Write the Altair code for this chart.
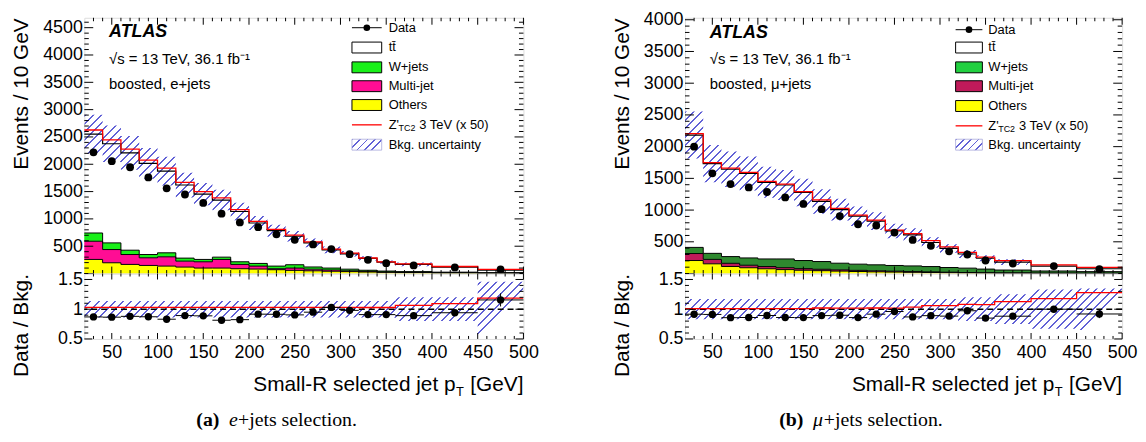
import altair as alt
import pandas as pd

# ---------------- data ----------------
bin_lo = [20, 40, 60, 80, 100, 120, 140, 160, 180, 200, 220, 240, 260, 280, 300, 320, 340, 360, 400, 450]
bin_hi = [40, 60, 80, 100, 120, 140, 160, 180, 200, 220, 240, 260, 280, 300, 320, 340, 360, 400, 450, 500]

# (a) e+jets, events / 10 GeV
ttbar_e = [1808, 1814, 1783, 1667, 1496, 1338, 1197, 1045, 920, 740, 649, 521, 441, 334, 281, 216, 164, 132, 93, 49]
wjets_e = [151, 122, 79, 60, 73, 55, 43, 42, 48, 49, 48, 61, 40, 35, 30, 20, 15, 13, 10, 5]
multijet_e = [333, 242, 181, 140, 170, 109, 115, 158, 79, 54, 18, 42, 30, 23, 15, 12, 8, 5, 3, 2]
others_e = [258, 197, 167, 148, 136, 118, 100, 100, 88, 82, 70, 58, 50, 42, 35, 28, 22, 17, 12, 8]
signal_e = [77, 71, 66, 60, 56, 49, 44, 40, 34, 28, 24, 20, 17, 13, 11, 8, 6, 11, 11, 12]
data_e = [2219, 2057, 1945, 1759, 1560, 1447, 1293, 1096, 936, 848, 718, 617, 533, 447, 354, 251, 190, 149, 111, 74]
unc_up_e = [0.14, 0.14, 0.14, 0.14, 0.14, 0.14, 0.14, 0.14, 0.14, 0.14, 0.14, 0.14, 0.14, 0.14, 0.14, 0.14, 0.14, 0.20, 0.20, 0.46]
unc_dn_e = [0.14, 0.14, 0.14, 0.14, 0.14, 0.14, 0.14, 0.14, 0.14, 0.14, 0.14, 0.14, 0.14, 0.14, 0.14, 0.14, 0.14, 0.20, 0.20, 0.55]
rerr_e = [0.01, 0.01, 0.01, 0.01, 0.01, 0.01, 0.01, 0.01, 0.01, 0.01, 0.015, 0.015, 0.02, 0.02, 0.025, 0.03, 0.035, 0.04, 0.05, 0.11]

# (b) mu+jets, events / 10 GeV
ttbar_m = [1771, 1414, 1377, 1331, 1207, 1165, 1072, 948, 844, 756, 689, 544, 489, 379, 301, 223, 171, 124, 77, 45]
wjets_m = [97, 95, 106, 115, 120, 138, 128, 122, 105, 98, 94, 90, 89, 84, 74, 69, 57, 45, 33, 25]
multijet_m = [110, 70, 50, 40, 35, 30, 25, 22, 20, 18, 16, 14, 12, 10, 8, 6, 5, 4, 3, 2]
others_m = [205, 153, 111, 91, 75, 62, 52, 45, 38, 32, 27, 23, 19, 16, 13, 10, 8, 6, 4, 3]
signal_m = [22, 17, 16, 16, 14, 14, 13, 23, 20, 18, 17, 13, 21, 29, 24, 25, 19, 23, 21, 21]
data_m = [2000, 1580, 1410, 1357, 1285, 1200, 1097, 1015, 905, 777, 757, 645, 530, 436, 350, 300, 205, 158, 117, 69]
unc_up_m = [0.17, 0.17, 0.17, 0.17, 0.17, 0.17, 0.17, 0.17, 0.17, 0.17, 0.17, 0.17, 0.17, 0.17, 0.17, 0.20, 0.20, 0.25, 0.33, 0.35]
unc_dn_m = [0.17, 0.17, 0.17, 0.17, 0.17, 0.17, 0.17, 0.17, 0.17, 0.17, 0.17, 0.17, 0.17, 0.17, 0.17, 0.20, 0.20, 0.25, 0.33, 0.35]
rerr_m = [0.01, 0.01, 0.01, 0.01, 0.01, 0.01, 0.01, 0.01, 0.01, 0.01, 0.015, 0.015, 0.02, 0.02, 0.025, 0.03, 0.035, 0.04, 0.05, 0.07]

x_major = [50, 100, 150, 200, 250, 300, 350, 400, 450, 500]
ratio_major = [0.5, 1, 1.5]
legend_labels = ["Data", "tt\u0304", "W+jets", "Multi-jet", "Others", "Z'", "Bkg. uncertainty"]

# ---------------- style ----------------
FONT = "Liberation Sans"
SERIF = "Liberation Serif"
MAIN_H = 258
RAT_H = 66
RAT_DOM = [0.5, 1.6]
HATCH = "#6262d6"
CLEAR = "rgba(255,255,255,0)"


def hatch_fill(w, h, period=8.3, frac=0.24, color=HATCH):
    span = w + h * h / w
    n = span / period
    stops = []
    k = 0
    while k < n:
        a = k / n
        b = min((k + frac) / n, 1.0)
        c = min((k + 1) / n, 1.0)
        stops += [alt.GradientStop(offset=a, color=color), alt.GradientStop(offset=b, color=color),
                  alt.GradientStop(offset=b, color=CLEAR), alt.GradientStop(offset=c, color=CLEAR)]
        k += 1
    return alt.LinearGradient(gradient="linear", stops=stops, x1=0, y1=0, x2=1, y2=h / w)


def one():
    return pd.DataFrame({"k": [0]})


def label(text, x, y, size=13, align="left", weight="normal", style="normal", font=FONT, baseline="middle"):
    return alt.Chart(pd.DataFrame({"t": [text]})).mark_text(
        align=align, baseline=baseline, fontSize=size, fontWeight=weight, fontStyle=style,
        font=font, color="black").encode(x=alt.value(x), y=alt.value(y), text="t:N")


def box(x1, x2, y1, y2, fill, stroke="black", sw=1.0):
    return alt.Chart(one()).mark_rect(fill=fill, stroke=stroke, strokeWidth=sw, opacity=1).encode(
        x=alt.value(x1), x2=alt.value(x2), y=alt.value(y1), y2=alt.value(y2))


def hline(x1, x2, y, color, sw):
    return alt.Chart(one()).mark_rule(color=color, strokeWidth=sw).encode(
        x=alt.value(x1), x2=alt.value(x2), y=alt.value(y))


def dot(x, y, size=55):
    return alt.Chart(one()).mark_circle(size=size, color="black", opacity=1).encode(x=alt.value(x), y=alt.value(y))


def panel(p):
    W = p["W"]
    n = len(bin_lo)
    c1 = [p["oth"][i] for i in range(n)]
    c2 = [c1[i] + p["mj"][i] for i in range(n)]
    c3 = [c2[i] + p["wj"][i] for i in range(n)]
    bkg = [c3[i] + p["tt"][i] for i in range(n)]
    tot = [bkg[i] + p["sig"][i] for i in range(n)]
    up = [bkg[i] * (1 + p["uu"][i]) for i in range(n)]
    dn = [bkg[i] * (1 - p["ud"][i]) for i in range(n)]
    rows = []
    for i in range(n):
        rows.append({"x": bin_lo[i], "z": 0, "c1": c1[i], "c2": c2[i], "c3": c3[i], "bkg": bkg[i],
                     "tot": tot[i], "up": up[i], "dn": dn[i], "rup": 1 + p["uu"][i], "rdn": 1 - p["ud"][i],
                     "rsig": tot[i] / bkg[i]})
    last = dict(rows[-1])
    last["x"] = bin_hi[-1]
    rows.append(last)
    sdf = pd.DataFrame(rows)
    pts = pd.DataFrame({
        "xc": [(bin_lo[i] + bin_hi[i]) / 2 for i in range(n)],
        "lo": bin_lo, "hi": bin_hi,
        "d": p["data"],
        "r": [p["data"][i] / bkg[i] for i in range(n)],
        "rl": [p["data"][i] / bkg[i] - p["re"][i] for i in range(n)],
        "rh": [p["data"][i] / bkg[i] + p["re"][i] for i in range(n)],
    })

    xs = alt.Scale(domain=[20, 500], nice=False, zero=False)
    ys = alt.Scale(domain=[0, p["ymax"]], nice=False, zero=False)
    rs = alt.Scale(domain=RAT_DOM, nice=False, zero=False)
    yax = alt.Axis(values=p["yvals"], format="d", labelFontSize=18, labelPadding=2, labelColor="black",
                   labelFont=FONT, labelOverlap=False, ticks=False, tickSize=0, domain=False, grid=False,
                   title="Events / 10 GeV", titleFontSize=21, titleFont=FONT, titleFontWeight="normal",
                   titleColor="black", titleAnchor="end", titleBaseline="middle", titleX=-63)
    rax = alt.Axis(values=ratio_major, format="~g", labelFontSize=18, labelPadding=2, labelColor="black",
                   labelFont=FONT, labelOverlap=False, ticks=False, tickSize=0, domain=False, grid=False,
                   title="Data / Bkg.", titleFontSize=21, titleFont=FONT, titleFontWeight="normal",
                   titleColor="black", titleAnchor="end", titleBaseline="middle", titleX=-63)
    xax = alt.Axis(values=x_major, format="d", labelFontSize=18, labelPadding=5, labelColor="black",
                   labelFont=FONT, labelOverlap=False, labelFlush=False, ticks=False, tickSize=0,
                   domain=False, grid=False, title=None)

    def XM(f):
        return alt.X(f, type="quantitative", scale=xs, axis=None)

    def YM(f):
        return alt.Y(f, type="quantitative", scale=ys, axis=yax)

    def XR(f):
        return alt.X(f, type="quantitative", scale=xs, axis=xax)

    def YR(f):
        return alt.Y(f, type="quantitative", scale=rs, axis=rax)

    # band bounding boxes for hatch geometry
    mpx = MAIN_H / p["ymax"]
    hm = (max(up) - min(dn)) * mpx
    rpx = RAT_H / (RAT_DOM[1] - RAT_DOM[0])
    hr = (max(1 + u for u in p["uu"]) - min(1 - d for d in p["ud"])) * rpx

    base = alt.Chart(sdf)
    step = dict(interpolate="step-after")
    main_layers = [
        base.mark_area(color=p["ocol"], opacity=1, **step).encode(x=XM("x"), y=YM("c1"), y2=alt.Y2("z")),
        base.mark_area(color=p["mcol"], opacity=1, **step).encode(x=XM("x"), y=YM("c2"), y2=alt.Y2("c1")),
        base.mark_area(color=p["wcol"], opacity=1, **step).encode(x=XM("x"), y=YM("c3"), y2=alt.Y2("c2")),
        base.mark_line(color="black", strokeWidth=1, **step).encode(x=XM("x"), y=YM("c1")),
        base.mark_line(color="black", strokeWidth=1, **step).encode(x=XM("x"), y=YM("c2")),
        base.mark_line(color="black", strokeWidth=1, **step).encode(x=XM("x"), y=YM("c3")),
        base.mark_area(fill=hatch_fill(W, hm), opacity=1, clip=True, **step).encode(
            x=XM("x"), y=YM("up"), y2=alt.Y2("dn")),
        base.mark_line(color="black", strokeWidth=1.2, **step).encode(x=XM("x"), y=YM("bkg")),
        base.mark_line(color="#ff0000", strokeWidth=1.3, **step).encode(x=XM("x"), y=YM("tot")),
        alt.Chart(pts).mark_circle(size=62, color="black", opacity=1).encode(x=XM("xc"), y=YM("d")),
    ]
    # inward ticks
    xminor = pd.DataFrame({"v": [v for v in range(30, 500, 10) if v % 50 != 0]})
    xmaj = pd.DataFrame({"v": x_major})
    ymaj = pd.DataFrame({"v": [v for v in range(0, int(p["ymax"]) + 1, 500)]})
    ymin = pd.DataFrame({"v": [v for v in range(100, int(p["ymax"]) + 1, 100) if v % 500 != 0]})
    for df, ln in ((xmaj, 7), (xminor, 3.5)):
        main_layers.append(alt.Chart(df).mark_rule(color="black", strokeWidth=1).encode(
            x=XM("v"), y=alt.value(MAIN_H), y2=alt.value(MAIN_H - ln)))
        main_layers.append(alt.Chart(df).mark_rule(color="black", strokeWidth=1).encode(
            x=XM("v"), y=alt.value(0), y2=alt.value(ln)))
    for df, ln in ((ymaj, 9), (ymin, 4.5)):
        main_layers.append(alt.Chart(df).mark_rule(color="black", strokeWidth=1).encode(
            y=YM("v"), x=alt.value(0), x2=alt.value(ln)))
        main_layers.append(alt.Chart(df).mark_rule(color="black", strokeWidth=1).encode(
            y=YM("v"), x=alt.value(W - ln), x2=alt.value(W)))

    # ATLAS labels
    main_layers += [
        label("ATLAS", 25, p["ty"][0], size=18, weight="bold", style="italic"),
        label("\u221as = 13 TeV, 36.1 fb\u207b\u00b9", 25, p["ty"][1], size=15),
        label(p["region"], 25, p["ty"][2], size=15),
    ]
    # legend
    bx0, bx1, tx = p["lx"]
    ly = p["ly"]
    main_layers += [
        hline(bx0, bx1, ly[0], "black", 1), dot((bx0 + bx1) / 2, ly[0], 45),
        label(legend_labels[0], tx, ly[0]),
        box(bx0, bx1, ly[1] - 5.5, ly[1] + 5.5, "white"), label(legend_labels[1], tx, ly[1]),
        box(bx0, bx1, ly[2] - 5.5, ly[2] + 5.5, p["wcol_leg"]), label(legend_labels[2], tx, ly[2]),
        box(bx0, bx1, ly[3] - 5.5, ly[3] + 5.5, p["mcol"]), label(legend_labels[3], tx, ly[3]),
        box(bx0, bx1, ly[4] - 5.5, ly[4] + 5.5, p["ocol"]), label(legend_labels[4], tx, ly[4]),
        hline(bx0, bx1, ly[5], "#ff0000", 1.3),
        label(legend_labels[5], tx, ly[5]), label("TC2", tx + 10, ly[5] + 3.5, size=9),
        label("3 TeV (x 50)", tx + 31, ly[5]),
        box(bx0, bx1, ly[6] - 5.5, ly[6] + 5.5, hatch_fill(bx1 - bx0, 11, period=7.5), stroke="#a8a8dc", sw=0.8),
        label(legend_labels[6], tx, ly[6]),
    ]
    main = alt.layer(*main_layers).properties(width=W, height=MAIN_H)

    # ratio panel
    rb = alt.Chart(sdf)
    rat_layers = [
        rb.mark_area(fill=hatch_fill(W, hr), opacity=1, clip=True, **step).encode(
            x=XR("x"), y=YR("rup"), y2=alt.Y2("rdn")),
        alt.Chart(pd.DataFrame({"v": [1.0]})).mark_rule(color="black", strokeWidth=1.4, strokeDash=[6, 4]).encode(
            y=YR("v")),
        rb.mark_line(color="#ff0000", strokeWidth=1.3, clip=True, **step).encode(x=XR("x"), y=YR("rsig")),
        alt.Chart(pts).mark_rule(color="black", strokeWidth=1).encode(x=XR("lo"), x2=alt.X2("hi"), y=YR("r")),
        alt.Chart(pts).mark_rule(color="black", strokeWidth=1).encode(x=XR("xc"), y=YR("rl"), y2=alt.Y2("rh")),
        alt.Chart(pts).mark_circle(size=55, color="black", opacity=1).encode(x=XR("xc"), y=YR("r")),
    ]
    rmaj = pd.DataFrame({"v": ratio_major})
    rmin = pd.DataFrame({"v": [0.6, 0.7, 0.8, 0.9, 1.1, 1.2, 1.3, 1.4, 1.6]})
    for df, ln in ((xmaj, 6), (xminor, 3)):
        rat_layers.append(alt.Chart(df).mark_rule(color="black", strokeWidth=1).encode(
            x=XR("v"), y=alt.value(RAT_H), y2=alt.value(RAT_H - ln)))
        rat_layers.append(alt.Chart(df).mark_rule(color="black", strokeWidth=1).encode(
            x=XR("v"), y=alt.value(0), y2=alt.value(ln)))
    for df, ln in ((rmaj, 8), (rmin, 4)):
        rat_layers.append(alt.Chart(df).mark_rule(color="black", strokeWidth=1).encode(
            y=YR("v"), x=alt.value(0), x2=alt.value(ln)))
        rat_layers.append(alt.Chart(df).mark_rule(color="black", strokeWidth=1).encode(
            y=YR("v"), x=alt.value(W - ln), x2=alt.value(W)))
    # x-axis title with subscript
    ty = 113
    rat_layers += [
        label("[GeV]", W, ty, size=21, align="right"),
        label("T", W - 60, ty + 7, size=13, align="right"),
        label("Small-R selected jet p", W - 68.5, ty, size=21, align="right"),
    ]
    # caption
    cx, cy = p["cap_x"], 148
    rat_layers += [
        label(p["cap"][0], cx, cy, size=20, weight="bold", font=SERIF),
        label(p["cap"][1], cx + p["cap_d"][0], cy, size=20, style="italic", font=SERIF),
        label(p["cap"][2], cx + p["cap_d"][1], cy, size=20, font=SERIF),
    ]
    ratio = alt.layer(*rat_layers).properties(width=W, height=RAT_H)
    return alt.vconcat(main, ratio, spacing=0, bounds="flush")


left = panel(dict(
    W=443, ymax=4681, yvals=[500, 1000, 1500, 2000, 2500, 3000, 3500, 4000, 4500],
    tt=ttbar_e, wj=wjets_e, mj=multijet_e, oth=others_e, sig=signal_e, data=data_e,
    uu=unc_up_e, ud=unc_dn_e, re=rerr_e,
    ocol="#ffff00", mcol="#ff0d94", wcol="#19f019", wcol_leg="#19f019",
    region="boosted, e+jets", ty=[14, 42, 67],
    lx=(270, 300, 307), ly=[10, 30, 50, 69, 88, 108, 128],
    cap=["(a)", "e", "+jets selection."], cap_x=113, cap_d=(33, 42),
))
right = panel(dict(
    W=441, ymax=4031, yvals=[500, 1000, 1500, 2000, 2500, 3000, 3500, 4000],
    tt=ttbar_m, wj=wjets_m, mj=multijet_m, oth=others_m, sig=signal_m, data=data_m,
    uu=unc_up_m, ud=unc_dn_m, re=rerr_m,
    ocol="#ffff00", mcol="#c01a5a", wcol="#2f8a2f", wcol_leg="#22d040",
    region="boosted, \u03bc+jets", ty=[15, 42, 67],
    lx=(273, 300, 306), ly=[12, 30, 50, 69, 89, 109, 128],
    cap=["(b)", "\u03bc", "+jets selection."], cap_x=95, cap_d=(34, 45),
))

chart = alt.hconcat(left, right, spacing=72).properties(
    padding={"left": 2, "top": 0, "right": 0, "bottom": 0}
).configure_view(stroke="black", strokeWidth=1).configure(font=FONT)

chart.save("out.html", embed_options={"renderer": "svg", "actions": False})
